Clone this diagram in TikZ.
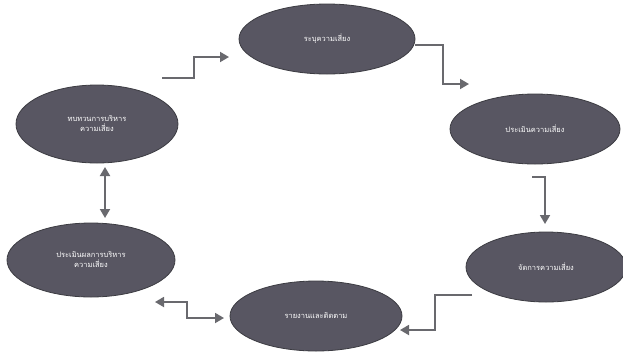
\documentclass[tikz,border=0pt]{standalone}
\usepackage{fontspec}
\newfontfamily\thaifont[Script=Thai]{Loma}
\usetikzlibrary{shapes.geometric,arrows.meta}

\definecolor{stepgray}{RGB}{88,86,98}
\definecolor{rimgray}{RGB}{60,60,66}
\definecolor{flowgray}{RGB}{105,105,110}

\tikzset{
  stage/.style={ellipse,fill=stepgray,draw=rimgray,line width=0.8pt,inner sep=0pt,
    text=white,font=\thaifont\fontsize{7.5}{10}\selectfont,align=center},
  flow/.style={draw=flowgray,line width=1.8pt,-{Triangle[length=9pt,width=10pt]}},
  twoway/.style={draw=flowgray,line width=1.8pt,{Triangle[length=9pt,width=10pt]}-{Triangle[length=9pt,width=10pt]}}
}

\begin{document}
\begin{tikzpicture}[x=1pt,y=-1pt]
    \useasboundingbox[fill=white] (0,0) rectangle (623,354);
    % the six stages
    \node[stage,minimum width=176pt,minimum height=70pt] at (327,39) (ident) {ระบุความเสี่ยง};
    \node[stage,minimum width=170pt,minimum height=70pt] at (535,129) (assess) {ประเมินความเสี่ยง};
    \node[stage,minimum width=160pt,minimum height=70pt] at (546,267) (manage) {จัดการความเสี่ยง};
    \node[stage,minimum width=172pt,minimum height=70pt] at (316,316) (report) {รายงานและติดตาม};
    \node[stage,minimum width=168pt,minimum height=74pt] at (91,260) (evalu) {ประเมินผลการบริหาร\\ความเสี่ยง};
    \node[stage,minimum width=162pt,minimum height=78pt] at (97,124) (review) {ทบทวนการบริหาร\\ความเสี่ยง};
    % arrow ends
    \coordinate (s1) at (162,78);  \coordinate (k1) at (194,57);  \coordinate (e1) at (229,57);
    \coordinate (s2) at (415,45);  \coordinate (k2) at (443,84);  \coordinate (e2) at (469,84);
    \coordinate (s3) at (532,177); \coordinate (e3) at (545,224);
    \coordinate (s4) at (472,295); \coordinate (k4) at (435,330); \coordinate (e4) at (400,330);
    \coordinate (e5) at (155,302); \coordinate (k5) at (187,318); \coordinate (f5) at (224,318);
    \coordinate (e6) at (105,167); \coordinate (f6) at (105,218);
    % connectors
    \draw[flow] (s1) -| (k1) -- (e1);
    \draw[flow] (s2) -| (k2) -- (e2);
    \draw[flow] (s3) -| (e3);
    \draw[flow] (s4) -| (k4) -- (e4);
    \draw[twoway] (e5) -| (k5) -- (f5);
    \draw[twoway] (e6) -- (f6);
\end{tikzpicture}
\end{document}
